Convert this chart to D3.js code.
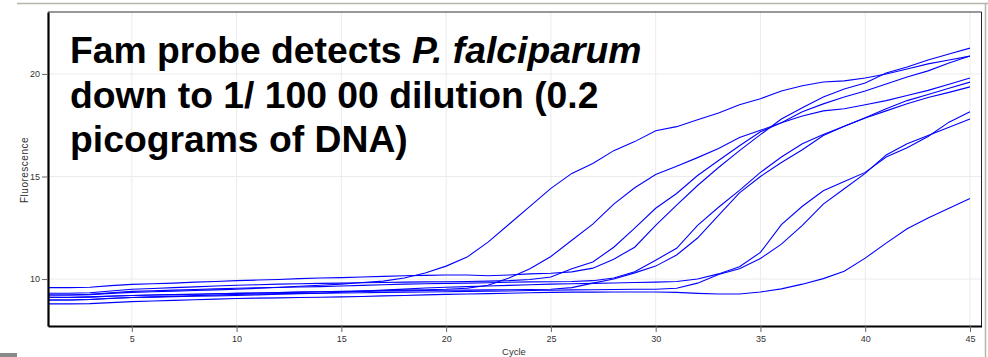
<!DOCTYPE html>
<html>
<head>
<meta charset="utf-8">
<script src="https://cdn.jsdelivr.net/npm/d3@7"></script>
<style>
  body { margin: 0; background: #fff; }
  svg { display: block; font-family: "Liberation Sans", Arial, sans-serif; }
</style>
</head>
<body>
<div id="chart"></div>
<script>
// cycles 1..45
const cycles = d3.range(1, 46);

// fluorescence per sample, one value per cycle
const sampleA = [9.22,9.22,9.24,9.3,9.35,9.38,9.41,9.44,9.47,9.5,9.55,9.6,9.65,9.7,9.75,9.83,9.9,10.05,10.29,10.63,11.07,11.8,12.67,13.54,14.42,15.15,15.63,16.26,16.7,17.23,17.43,17.77,18.1,18.5,18.79,19.17,19.42,19.61,19.66,19.8,20.0,20.24,20.49,20.68,20.87];
const sampleB = [9.11,9.1,9.12,9.16,9.2,9.22,9.24,9.26,9.28,9.3,9.32,9.34,9.36,9.38,9.4,9.42,9.44,9.46,9.48,9.5,9.55,9.7,10.05,10.5,11.1,11.89,12.68,13.65,14.45,15.1,15.5,15.92,16.36,16.9,17.25,17.62,17.95,18.2,18.3,18.5,18.7,18.95,19.2,19.5,19.8];
const sampleC = [9.31,9.31,9.33,9.42,9.5,9.54,9.58,9.62,9.66,9.7,9.72,9.75,9.77,9.79,9.8,9.82,9.83,9.85,9.86,9.87,9.88,9.9,9.92,9.98,10.1,10.5,10.83,11.55,12.48,13.45,14.17,15.05,15.78,16.5,17.18,17.62,18.16,18.54,18.88,19.17,19.51,19.85,20.15,20.53,20.87];
const sampleD = [9.58,9.58,9.6,9.68,9.74,9.77,9.8,9.85,9.88,9.92,9.95,9.98,10.02,10.05,10.07,10.1,10.13,10.16,10.18,10.2,10.2,10.16,10.2,10.25,10.28,10.35,10.53,10.97,11.55,12.62,13.6,14.56,15.44,16.26,17.04,17.8,18.35,18.88,19.27,19.56,20.05,20.34,20.68,20.97,21.26];
const sampleE = [9.22,9.22,9.25,9.33,9.4,9.43,9.46,9.49,9.52,9.55,9.57,9.59,9.61,9.63,9.66,9.69,9.72,9.75,9.77,9.79,9.8,9.82,9.84,9.86,9.87,9.88,9.92,10.05,10.35,10.92,11.5,12.62,13.5,14.32,15.2,15.95,16.6,17.05,17.45,17.86,18.3,18.7,19.0,19.3,19.6];
const sampleF = [9.11,9.11,9.13,9.17,9.2,9.22,9.24,9.26,9.28,9.3,9.32,9.34,9.36,9.38,9.39,9.4,9.42,9.43,9.44,9.45,9.46,9.47,9.48,9.49,9.5,9.58,9.8,10.0,10.3,10.63,11.17,12.0,13.1,14.2,15.0,15.68,16.3,17.0,17.45,17.85,18.2,18.55,18.85,19.1,19.37];
const sampleG = [8.98,8.98,9.0,9.05,9.1,9.12,9.14,9.16,9.18,9.2,9.23,9.26,9.29,9.31,9.32,9.33,9.35,9.36,9.37,9.38,9.4,9.41,9.42,9.44,9.45,9.47,9.48,9.49,9.5,9.5,9.55,9.8,10.22,10.5,11.0,11.7,12.62,13.65,14.4,15.15,16.05,16.6,17.0,17.4,17.8];
const sampleH = [8.98,8.98,9.0,9.06,9.1,9.13,9.16,9.19,9.22,9.25,9.27,9.29,9.3,9.31,9.36,9.41,9.46,9.51,9.56,9.6,9.63,9.66,9.69,9.72,9.75,9.77,9.79,9.81,9.83,9.85,9.88,10.0,10.25,10.6,11.3,12.65,13.55,14.3,14.75,15.2,15.95,16.4,16.95,17.65,18.16];
const sampleI = [8.79,8.79,8.8,8.85,8.9,8.93,8.96,8.99,9.02,9.05,9.07,9.08,9.1,9.11,9.13,9.15,9.18,9.2,9.23,9.25,9.27,9.29,9.31,9.33,9.35,9.36,9.36,9.37,9.37,9.37,9.35,9.3,9.27,9.27,9.37,9.52,9.75,10.02,10.38,11.02,11.75,12.45,12.98,13.45,13.93];

const samples = [sampleA, sampleB, sampleC, sampleD, sampleE, sampleF, sampleG, sampleH, sampleI];

const xTicks = [5, 10, 15, 20, 25, 30, 35, 40, 45];
const yTicks = [10, 15, 20];

const width = 988, height = 357;
const plotLeft = 48, plotRight = 981.5, plotTop = 12, plotBottom = 326;

const svg = d3.select("#chart")
    .append("svg")
    .attr("width", width)
    .attr("height", height);

// window frame bits
svg.append("line").attr("x1", 17).attr("x2", 988).attr("y1", 3.5).attr("y2", 3.5)
    .attr("stroke", "#b4b4ac").attr("stroke-width", 1.5);
svg.append("line").attr("x1", 985.5).attr("x2", 985.5).attr("y1", 3).attr("y2", 357)
    .attr("stroke", "#b4b4ac").attr("stroke-width", 1.5);
svg.append("rect").attr("x", 0).attr("y", 353).attr("width", 17).attr("height", 4)
    .attr("fill", "#8a8a8a");

const x = d3.scaleLinear().domain([1, 45.55]).range([plotLeft, plotRight]);
const y = d3.scaleLinear().domain([7.71, 23.02]).range([plotBottom, plotTop]);

// grid
svg.append("g").selectAll("line").data(xTicks).join("line")
    .attr("x1", d => x(d)).attr("x2", d => x(d))
    .attr("y1", plotTop).attr("y2", plotBottom)
    .attr("stroke", "#ebebeb");
svg.append("g").selectAll("line").data(yTicks).join("line")
    .attr("x1", plotLeft).attr("x2", plotRight)
    .attr("y1", d => y(d)).attr("y2", d => y(d))
    .attr("stroke", "#ebebeb");

// curves
const line = d3.line()
    .x((d, i) => x(cycles[i]))
    .y(d => y(d));

svg.append("g").selectAll("path").data(samples).join("path")
    .attr("d", line)
    .attr("fill", "none")
    .attr("stroke", "#0000ff")
    .attr("stroke-width", 1.1);

// frame: top and right thin, left and bottom heavy
svg.append("line").attr("x1", plotLeft).attr("x2", plotRight).attr("y1", plotTop).attr("y2", plotTop)
    .attr("stroke", "#333").attr("stroke-width", 1);
svg.append("line").attr("x1", plotRight).attr("x2", plotRight).attr("y1", plotTop).attr("y2", plotBottom)
    .attr("stroke", "#222").attr("stroke-width", 1);

// axes
const xAxis = svg.append("g")
    .attr("transform", `translate(0,${plotBottom})`)
    .call(d3.axisBottom(x).tickValues(xTicks).tickSize(6).tickPadding(4).tickSizeOuter(0));
const yAxis = svg.append("g")
    .attr("transform", `translate(${plotLeft},0)`)
    .call(d3.axisLeft(y).tickValues(yTicks).tickSize(6).tickPadding(2).tickSizeOuter(0));

[xAxis, yAxis].forEach(g => {
    g.select(".domain").attr("stroke", "#000").attr("stroke-width", 2.2);
    g.selectAll(".tick line").attr("stroke", "#666");
    g.selectAll(".tick text").attr("fill", "#333")
        .style("font-size", "9px").style("font-family", "'Liberation Sans', Arial, sans-serif");
});

// axis titles
svg.append("text")
    .attr("x", 514).attr("y", 355)
    .attr("text-anchor", "middle")
    .attr("fill", "#333")
    .style("font-size", "9.5px")
    .text("Cycle");
svg.append("text")
    .attr("transform", "translate(27.5,170) rotate(-90)")
    .attr("text-anchor", "middle")
    .attr("fill", "#333")
    .style("font-size", "10px")
    .style("letter-spacing", "0.5px")
    .text("Fluorescence");

// annotation
const note = svg.append("text")
    .attr("fill", "#000")
    .style("font-size", "37.3px")
    .style("font-weight", "bold");
const l1 = note.append("tspan").attr("x", 70).attr("y", 63);
l1.append("tspan").text("Fam probe detects ");
l1.append("tspan").style("font-style", "italic").text("P. falciparum");
note.append("tspan").attr("x", 70).attr("y", 107.5).text("down to 1/ 100 00 dilution (0.2");
note.append("tspan").attr("x", 70).attr("y", 152).text("picograms of DNA)");
</script>
</body>
</html>
